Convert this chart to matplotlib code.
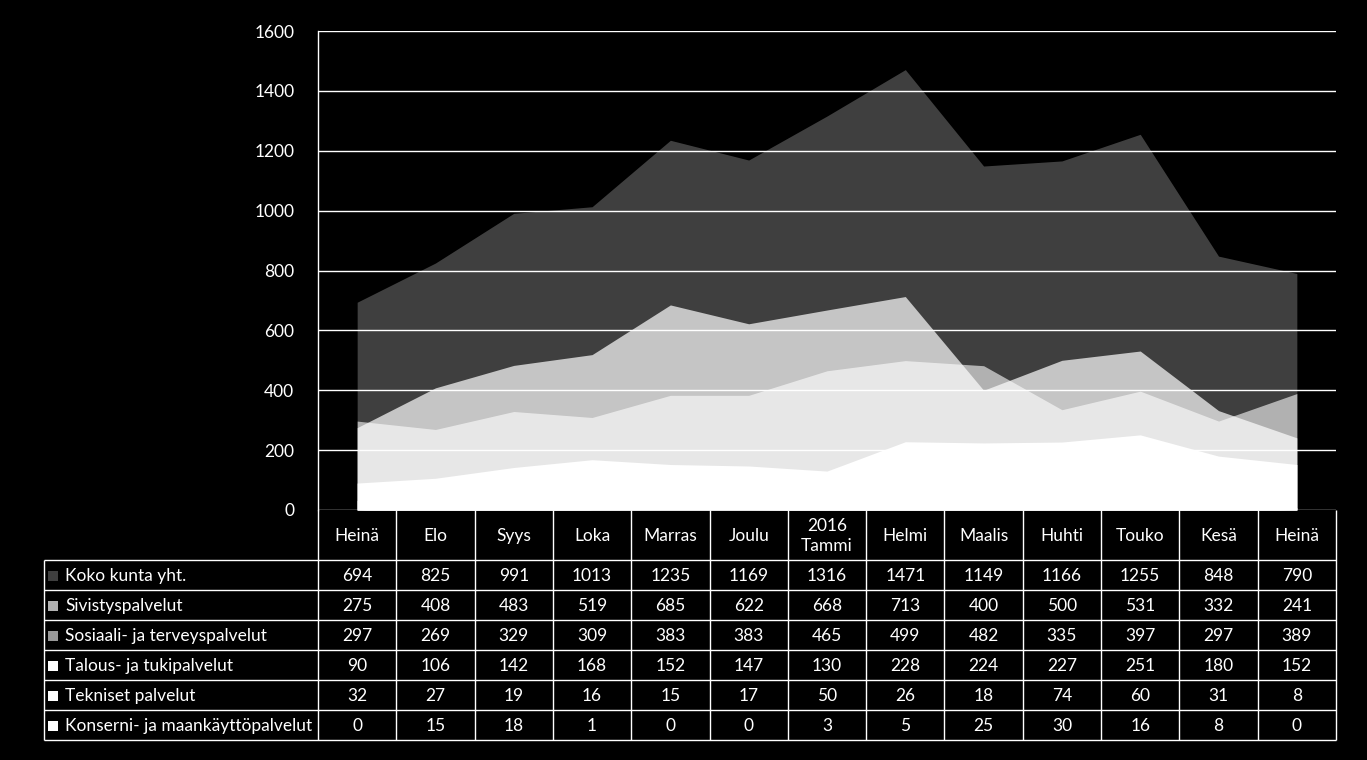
import matplotlib
matplotlib.use("Agg")
import matplotlib.pyplot as plt
import numpy as np

plt.rcParams['font.family'] = ['Lato', 'DejaVu Sans']

months = ['Heinä', 'Elo', 'Syys', 'Loka', 'Marras', 'Joulu', '2016\nTammi',
          'Helmi', 'Maalis', 'Huhti', 'Touko', 'Kesä', 'Heinä']
series_names = ['Koko kunta yht.', 'Sivistyspalvelut', 'Sosiaali- ja terveyspalvelut',
                'Talous- ja tukipalvelut', 'Tekniset palvelut',
                'Konserni- ja maankäyttöpalvelut']
koko = [694, 825, 991, 1013, 1235, 1169, 1316, 1471, 1149, 1166, 1255, 848, 790]
sivistys = [275, 408, 483, 519, 685, 622, 668, 713, 400, 500, 531, 332, 241]
sosiaali = [297, 269, 329, 309, 383, 383, 465, 499, 482, 335, 397, 297, 389]
talous = [90, 106, 142, 168, 152, 147, 130, 228, 224, 227, 251, 180, 152]
tekniset = [32, 27, 19, 16, 15, 17, 50, 26, 18, 74, 60, 31, 8]
konserni = [0, 15, 18, 1, 0, 0, 3, 5, 25, 30, 16, 8, 0]

all_series = [koko, sivistys, sosiaali, talous, tekniset, konserni]
alphas = [0.25, 0.7, 0.6, 1.0, 1.0, 1.0]
fs = 12.5

W, H = 1367, 760
fig = plt.figure(figsize=(W / 100, H / 100), dpi=100, facecolor='black')

# chart area
ax = fig.add_axes([318 / W, (H - 510) / H, (1336 - 318) / W, (510 - 31) / H])
ax.set_facecolor('black')
x = np.arange(len(months))
for vals, a in zip(all_series, alphas):
    ax.fill_between(x, 0, vals, color='white', alpha=a, linewidth=0)
ax.set_xlim(-0.5, len(months) - 0.5)
ax.set_ylim(0, 1600)
ax.set_yticks(np.arange(0, 1601, 200))
ax.set_xticks([])
ax.yaxis.grid(True, color='white', linewidth=1.0)
ax.set_axisbelow(False)
for s in ['top', 'right', 'bottom']:
    ax.spines[s].set_visible(False)
ax.spines['left'].set_color('white')
ax.spines['left'].set_linewidth(1.0)
ax.tick_params(axis='y', length=0, pad=17, labelcolor='white', labelsize=fs)

# data table
tax = fig.add_axes([44 / W, (H - 740) / H, (1336 - 44) / W, (740 - 510) / H])
tax.set_facecolor('black')
tax.axis('off')
label_w = 274 / ((1336 - 318) / len(months))
x0 = -0.5 - label_w
x1 = len(months) - 0.5
tax.set_xlim(x0, x1)
tax.set_ylim(230, 0)
header_h = 50
row_h = 30
row_edges = [header_h + i * row_h for i in range(len(series_names) + 1)]

lc = dict(color='white', linewidth=1.0, clip_on=False)
tax.hlines(row_edges, x0, x1, **lc)
tax.vlines(np.arange(len(months) + 1) - 0.5, 0, row_edges[-1], **lc)
tax.vlines([x0], header_h, row_edges[-1], **lc)

for i, m in enumerate(months):
    tax.text(i, header_h / 2 + 1, m, color='white', ha='center', va='center',
             fontsize=fs, linespacing=1.3)

for r, (name, vals, a) in enumerate(zip(series_names, all_series, alphas)):
    yc = header_h + r * row_h + row_h / 2 + 1
    tax.scatter([x0 + 0.115], [yc], marker='s', s=50, color='white', alpha=a,
                linewidths=0, clip_on=False)
    tax.text(x0 + 0.27, yc, name, color='white', ha='left', va='center', fontsize=fs)
    for i, v in enumerate(vals):
        tax.text(i, yc, str(v), color='white', ha='center', va='center', fontsize=fs)

fig.savefig('out.png', dpi=100, facecolor='black')
